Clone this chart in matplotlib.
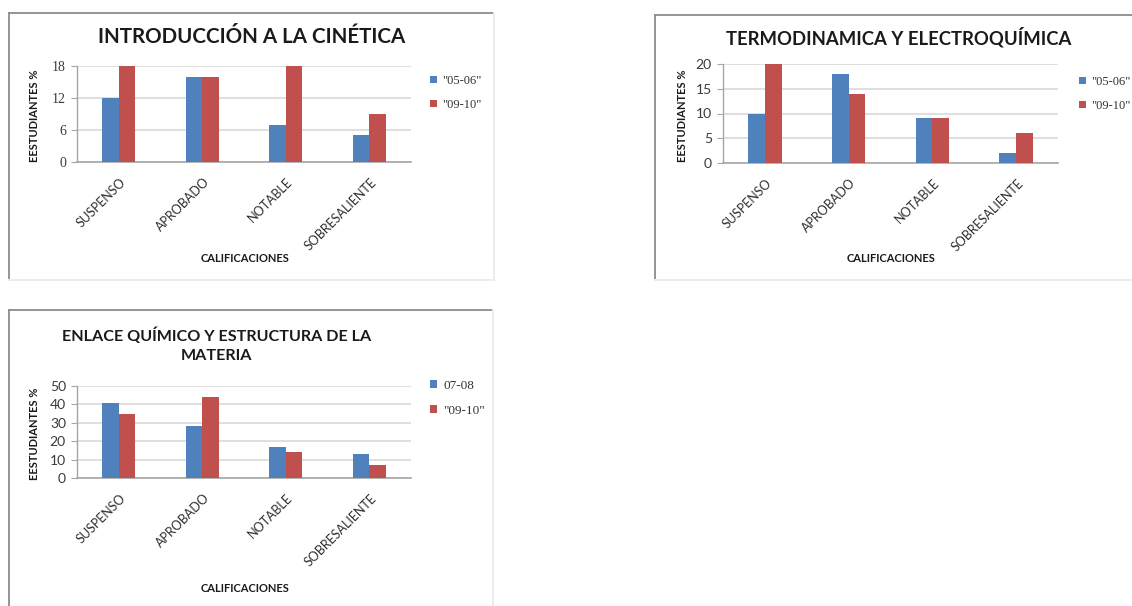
import matplotlib
matplotlib.use("Agg")
import matplotlib.pyplot as plt
from matplotlib.lines import Line2D
from matplotlib.transforms import ScaledTranslation
import numpy as np

# ---- data -------------------------------------------------------------
categories = ["SUSPENSO", "APROBADO", "NOTABLE", "SOBRESALIENTE"]

cinetica_0506 = [12, 16, 7, 5]
cinetica_0910 = [18, 16, 18, 9]

termo_0506 = [10, 18, 9, 2]
termo_0910 = [20, 14, 9, 6]

enlace_0708 = [41, 28, 17, 13]
enlace_0910 = [35, 44, 14, 7]

cinetica_ticks = [0, 6, 12, 18]
termo_ticks = [0, 5, 10, 15, 20]
enlace_ticks = [0, 10, 20, 30, 40, 50]

# ---- style ------------------------------------------------------------
W, H = 1132, 606
BLUE = "#4F81BD"
RED = "#C0504D"
GRID = "#d9d9d9"
AXIS = "#a6a6a6"
SANS = "Lato"
SERIF = "Liberation Serif"

fig = plt.figure(figsize=(W / 100, H / 100), dpi=100)
fig.patch.set_facecolor("white")


def fx(px):
    return px / W


def fy(py):
    return 1 - py / H


def frame(x0, y0, x1, y1, right=True, bottom=True):
    """Chart area border: dark top/left edges, faint right/bottom edges."""
    fig.add_artist(Line2D([fx(x0), fx(x0)], [fy(y0), fy(min(y1, H))],
                          color="#8c8c8c", lw=1.3))
    fig.add_artist(Line2D([fx(x0), fx(min(x1, W))], [fy(y0), fy(y0)],
                          color="#8c8c8c", lw=1.3))
    if right:
        fig.add_artist(Line2D([fx(x1), fx(x1)], [fy(y0), fy(min(y1, H))],
                              color="#ececec", lw=1.5))
    if bottom:
        fig.add_artist(Line2D([fx(x0), fx(min(x1, W))], [fy(y1), fy(y1)],
                              color="#ececec", lw=1.5))


def panel(box, s1, s2, labels, ticks, title, title_xy, title_size,
          ylabel_x, xlabel_y, legend_xy, legend_size, tick_font):
    left, top, right, bottom = box
    ax = fig.add_axes([fx(left), fy(bottom), fx(right - left), (bottom - top) / H])
    x = np.arange(len(categories))
    w = 0.2
    b1 = ax.bar(x - w / 2, s1, w, color=BLUE, zorder=3)
    b2 = ax.bar(x + w / 2, s2, w, color=RED, zorder=3)
    ax.set_xlim(-0.5, len(categories) - 0.5)
    ax.set_ylim(ticks[0], ticks[-1])
    ax.set_yticks(ticks)
    ax.set_yticklabels([str(t) for t in ticks], fontfamily=tick_font,
                       fontsize=10, color="#3a3a3a")
    ax.yaxis.grid(True, color=GRID, lw=1.2, zorder=0)
    ax.set_axisbelow(True)
    for s in ("top", "right"):
        ax.spines[s].set_visible(False)
    ax.spines["left"].set_color(AXIS)
    ax.spines["bottom"].set_color(AXIS)
    ax.spines["left"].set_linewidth(1.0)
    ax.spines["bottom"].set_linewidth(1.2)
    ax.tick_params(axis="y", length=4, color=AXIS, pad=4)
    ax.tick_params(axis="x", length=0, pad=13)
    ax.set_xticks(x)
    ax.set_xticklabels(categories, rotation=45, ha="right", va="center",
                       rotation_mode="anchor", fontfamily=SANS, fontsize=9,
                       color="#2e2e2e")
    shift = ScaledTranslation(5 / 100, 0, fig.dpi_scale_trans)
    for lab in ax.get_xticklabels():
        lab.set_transform(lab.get_transform() + shift)

    fig.text(fx(title_xy[0]), fy(title_xy[1]), title, ha="center", va="center",
             fontfamily=SANS, fontweight="bold", fontsize=title_size,
             color="#1a1a1a", linespacing=1.45)
    fig.text(fx(ylabel_x), fy((top + bottom) / 2 + 2), "EESTUDIANTES %",
             rotation=90, ha="center", va="center", fontfamily=SANS,
             fontweight="bold", fontsize=8, color="#1a1a1a")
    fig.text(fx(left + (right - left) * 0.5 + 1), fy(xlabel_y), "CALIFICACIONES",
             ha="center", va="center", fontfamily=SANS, fontweight="bold",
             fontsize=8, color="#1a1a1a")
    ax.legend([b1, b2], labels, loc="upper left",
              bbox_to_anchor=(fx(legend_xy[0]), fy(legend_xy[1])),
              bbox_transform=fig.transFigure, frameon=False,
              handlelength=0.55, handleheight=0.55, handletextpad=0.45,
              labelspacing=legend_size[1], borderpad=0, borderaxespad=0,
              prop={"family": SERIF, "size": legend_size[0]},
              labelcolor="#333333")
    return ax


# borders of the three chart areas
frame(9, 13, 494, 280)
frame(655, 15, 1140, 280, right=False)
frame(9, 310, 493, 620, bottom=False)

panel((77, 66, 411, 162), cinetica_0506, cinetica_0910,
      ['"05-06"', '"09-10"'], cinetica_ticks,
      "INTRODUCCIÓN A LA CINÉTICA", (252, 37), 14.8,
      ylabel_x=35, xlabel_y=259, legend_xy=(430, 75), legend_size=(9, 0.95),
      tick_font=SERIF)

panel((723, 64, 1058, 163), termo_0506, termo_0910,
      ['"05-06"', '"09-10"'], termo_ticks,
      "TERMODINAMICA Y ELECTROQUÍMICA", (899, 37), 13.3,
      ylabel_x=682, xlabel_y=259, legend_xy=(1079, 76), legend_size=(9, 0.95),
      tick_font=SANS)

panel((77, 386, 411, 478), enlace_0708, enlace_0910,
      ["07-08", '"09-10"'], enlace_ticks,
      "ENLACE QUÍMICO Y ESTRUCTURA DE LA\nMATERIA", (217, 345), 11.6,
      ylabel_x=35, xlabel_y=588, legend_xy=(430, 380), legend_size=(9.5, 0.95),
      tick_font=SANS)

fig.savefig("out.png", dpi=100, facecolor="white")
